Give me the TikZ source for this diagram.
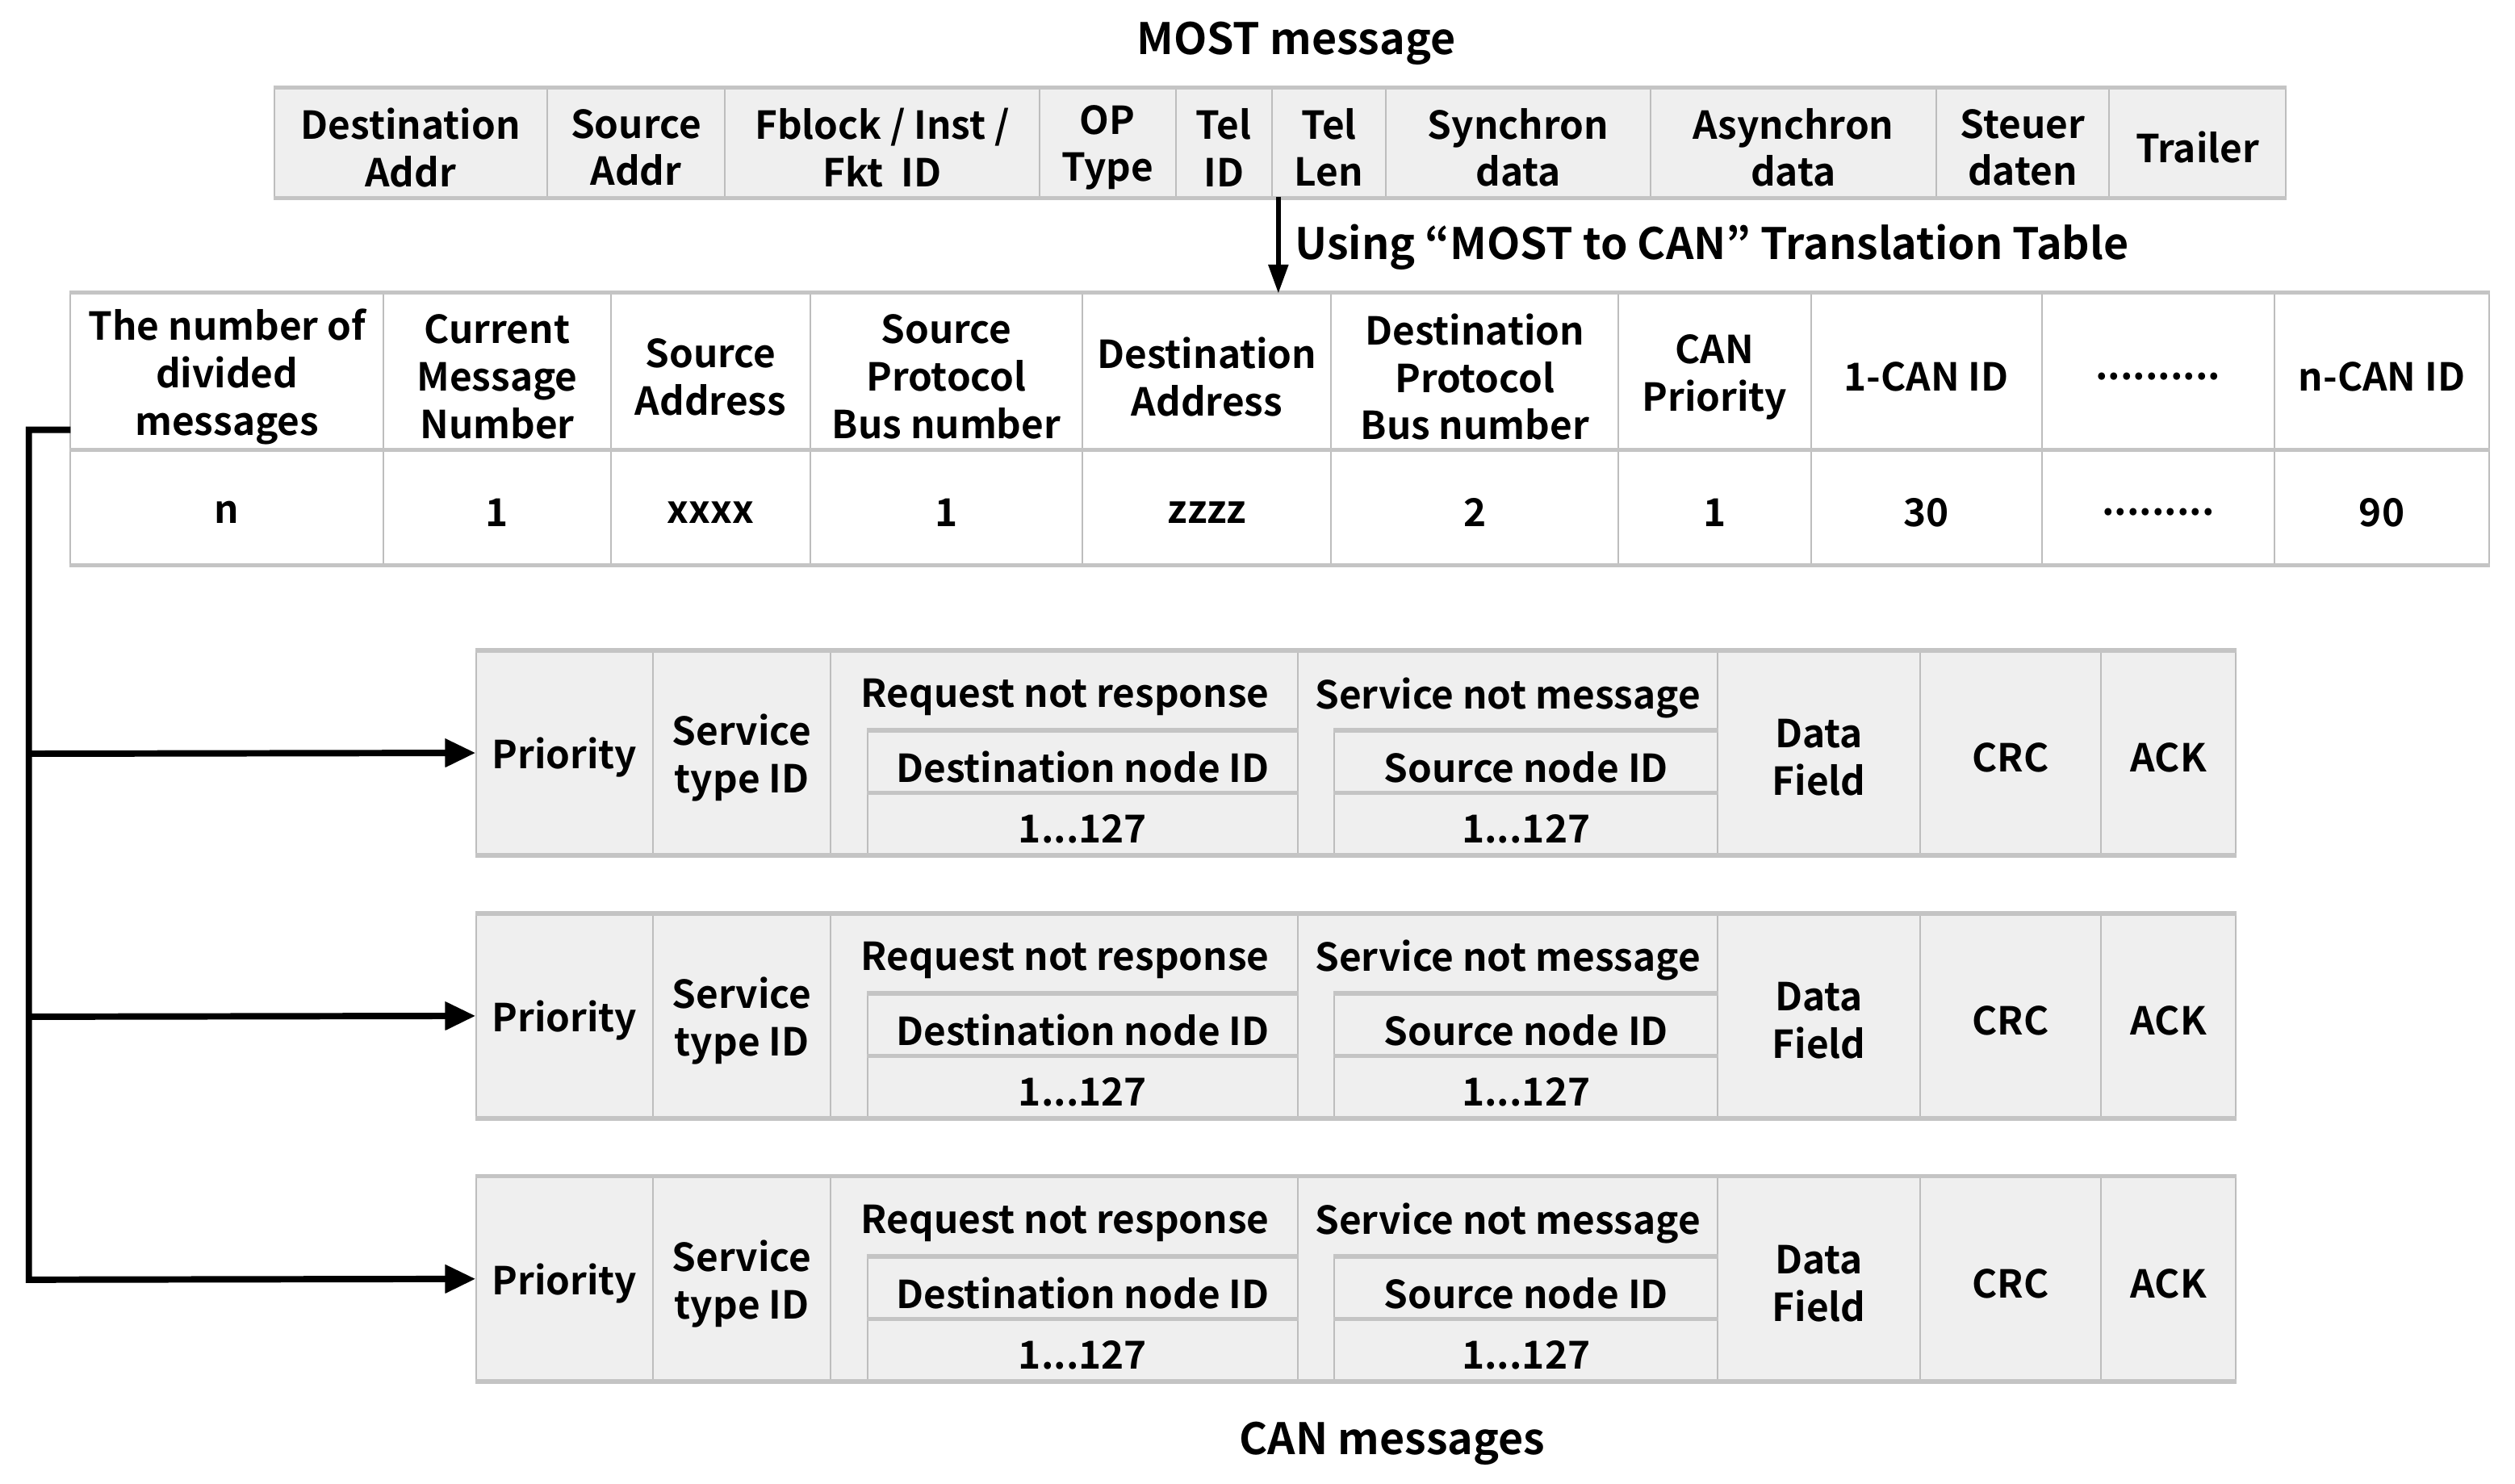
\documentclass[tikz,border=0pt]{standalone}
\usepackage{fontspec}
\setmainfont{Noto Sans CJK KR}[BoldFont={* Bold}]
\usetikzlibrary{arrows.meta}
\definecolor{cellfill}{HTML}{EFEFEF}
\definecolor{cellline}{HTML}{BDBDBD}
\definecolor{hl}{HTML}{C4C4C4}
\newcommand\cellfont{\fontsize{12}{14.8}\selectfont\bfseries}
\newcommand\titlefont{\fontsize{13.5}{16}\selectfont\bfseries}
\tikzset{
  cellbase/.style={draw=cellline, line width=0.5pt, inner sep=0pt},
  gcell/.style={fill=cellfill},
  wcell/.style={fill=white},
  plain/.style={inner sep=0pt, align=center, font=\cellfont},
  titletext/.style={inner sep=0pt, align=center, font=\titlefont},
  hline/.style={draw=hl, line width=1.4pt},
  conn/.style={line width=2pt, line join=miter, -{Triangle[length=9.5pt,width=8.5pt]}},
  conn2/.style={line width=1.5pt, -{Triangle[length=9pt,width=6pt]}},
}
% #1 style, #2 name, #3 x1, #4 y1, #5 x2, #6 y2, #7 text
\newcommand\mycell[7][]{%
  \pgfmathsetmacro\cw{((#5)-(#3))*0.5}%
  \pgfmathsetmacro\ch{((#6)-(#4))*0.5}%
  \node[cellbase,#1,minimum width=\cw pt,minimum height=\ch pt] (#2) at ({((#3)+(#5))/2},{((#4)+(#6))/2}) {};
  \node[plain,yshift=-1.5pt] (#2-txt) at (#2.center) {#7};}
\begin{document}
\begin{tikzpicture}[x=0.5pt,y=-0.5pt]
\useasboundingbox (0,0) rectangle (1568,925);
% MOST message
\node[titletext] (mosttitle) at (808,27) {MOST message};
\mycell[gcell]{m1}{171}{55}{341}{123}{Destination\\Addr}
\mycell[gcell]{m2}{341}{55}{452}{123}{Source\\Addr}
\mycell[gcell]{m3}{452}{55}{648}{123}{Fblock / Inst /\\Fkt~ ID}
\mycell[gcell]{m4}{648}{55}{733}{123}{OP\\Type}
\mycell[gcell]{m5}{733}{55}{793}{123}{Tel\\ID}
\mycell[gcell]{m6}{793}{55}{864}{123}{Tel\\Len}
\mycell[gcell]{m7}{864}{55}{1029}{123}{Synchron\\data}
\mycell[gcell]{m8}{1029}{55}{1207}{123}{Asynchron\\data}
\mycell[gcell]{m9}{1207}{55}{1315}{123}{Steuer\\daten}
\mycell[gcell]{m10}{1315}{55}{1425}{123}{Trailer}
\draw[hline] (m1.north west) -- (m10.north east);
\draw[hline] (m1.south west) -- (m10.south east);
% translation table
\mycell[wcell]{t1}{44}{183}{239}{281}{The number of\\divided\\messages}
\mycell[wcell]{t2}{239}{183}{381}{281}{Current\\Message\\Number}
\mycell[wcell]{t3}{381}{183}{505}{281}{Source\\Address}
\mycell[wcell]{t4}{505}{183}{675}{281}{Source\\Protocol\\Bus number}
\mycell[wcell]{t5}{675}{183}{830}{281}{Destination\\Address}
\mycell[wcell]{t6}{830}{183}{1009}{281}{Destination\\Protocol\\Bus number}
\mycell[wcell]{t7}{1009}{183}{1129}{281}{CAN\\Priority}
\mycell[wcell]{t8}{1129}{183}{1273}{281}{1-CAN ID}
\mycell[wcell]{t9}{1273}{183}{1418}{281}{..........}
\mycell[wcell]{t10}{1418}{183}{1552}{281}{n-CAN ID}
\mycell[wcell]{v1}{44}{281}{239}{352}{n}
\mycell[wcell]{v2}{239}{281}{381}{352}{1}
\mycell[wcell]{v3}{381}{281}{505}{352}{xxxx}
\mycell[wcell]{v4}{505}{281}{675}{352}{1}
\mycell[wcell]{v5}{675}{281}{830}{352}{zzzz}
\mycell[wcell]{v6}{830}{281}{1009}{352}{2}
\mycell[wcell]{v7}{1009}{281}{1129}{352}{1}
\mycell[wcell]{v8}{1129}{281}{1273}{352}{30}
\mycell[wcell]{v9}{1273}{281}{1418}{352}{.........}
\mycell[wcell]{v10}{1418}{281}{1552}{352}{90}
\draw[hline] (t1.north west) -- (t10.north east);
\draw[hline] (v1.north west) -- (v10.north east);
\draw[hline] (v1.south west) -- (v10.south east);
% MOST -> table arrow
\coordinate (arrS) at (797,123);
\coordinate (arrT) at (797,183);
\draw[conn2] (arrS) -- (arrT);
\node[titletext, anchor=west] (using) at (807,154) {Using “MOST to CAN” Translation Table};
% CAN messages
\foreach \k/\oy in {1/406,2/570,3/734}{
  \mycell[gcell]{c\k-p}{297}{\oy}{407}{\oy+127}{Priority}
  \mycell[gcell]{c\k-s}{407}{\oy}{518}{\oy+127}{Service\\type ID}
  \mycell[gcell]{c\k-r}{518}{\oy}{809}{\oy+127}{}
  \node[plain] (c\k-rt) at (664,\oy+29) {Request not response};
  \mycell[gcell]{c\k-rd}{541}{\oy+50}{809}{\oy+89}{Destination node ID}
  \mycell[gcell]{c\k-rn}{541}{\oy+89}{809}{\oy+127}{1...127}
  \mycell[gcell]{c\k-n}{809}{\oy}{1071}{\oy+127}{}
  \node[plain] (c\k-nt) at (940,\oy+29) {Service not message};
  \mycell[gcell]{c\k-nd}{832}{\oy+50}{1071}{\oy+89}{Source node ID}
  \mycell[gcell]{c\k-nn}{832}{\oy+89}{1071}{\oy+127}{1...127}
  \mycell[gcell]{c\k-d}{1071}{\oy}{1197}{\oy+127}{Data\\Field}
  \mycell[gcell]{c\k-c}{1197}{\oy}{1310}{\oy+127}{CRC}
  \mycell[gcell]{c\k-a}{1310}{\oy}{1394}{\oy+127}{ACK}
  \draw[hline] (c\k-p.north west) -- (c\k-a.north east);
  \draw[hline] (c\k-p.south west) -- (c\k-a.south east);
  \draw[hline] (c\k-rd.north west) -- (c\k-rd.north east);
  \draw[hline] (c\k-rn.north west) -- (c\k-rn.north east);
  \draw[hline] (c\k-nd.north west) -- (c\k-nd.north east);
  \draw[hline] (c\k-nn.north west) -- (c\k-nn.north east);
}
\node[titletext] (cantitle) at (868,900) {CAN messages};
% bracket connectors
\coordinate (br0) at (44,268);
\coordinate (br1) at (18,268);
\coordinate (brA) at (18,470);
\coordinate (brB) at (18,634);
\coordinate (brC) at (18,798);
\draw[conn] (br0) -- (br1) -- (brC) -- (c3-p.west);
\draw[conn] (brA) -- (c1-p.west);
\draw[conn] (brB) -- (c2-p.west);
\end{tikzpicture}
\end{document}
